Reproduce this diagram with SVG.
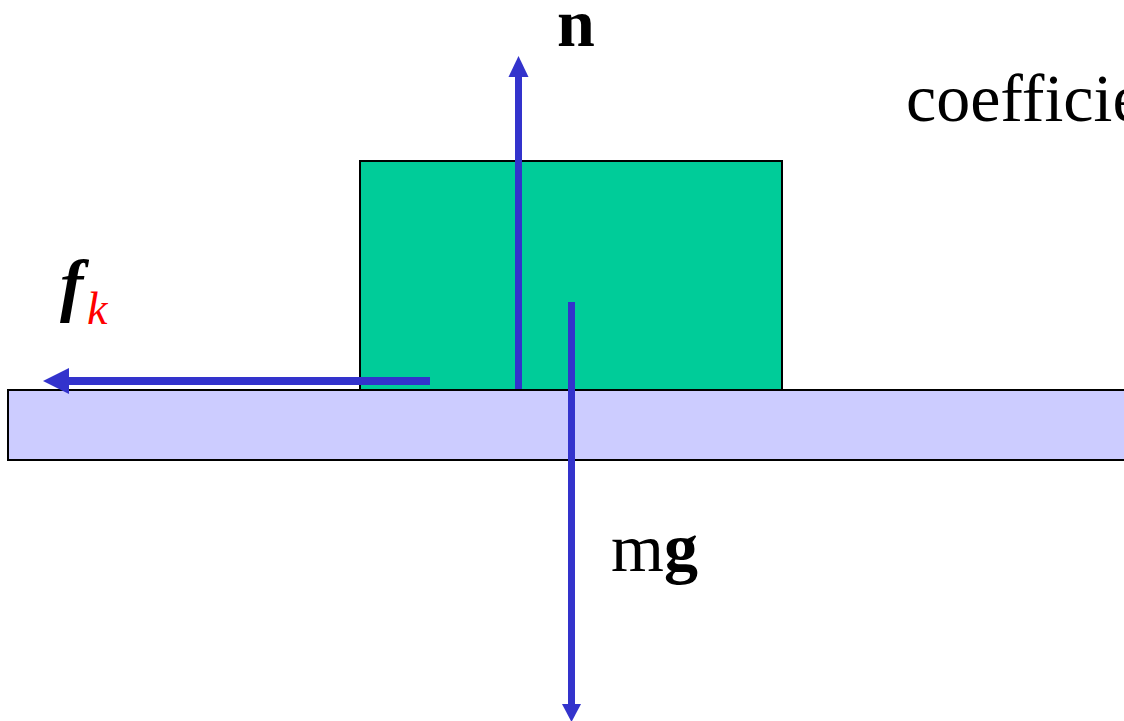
<svg xmlns="http://www.w3.org/2000/svg" width="1124" height="721" viewBox="0 0 1124 721">
<style>
.t{font-family:"Liberation Serif","Times New Roman",serif;font-size:68px;fill:#000}
.arr{stroke:#3333CC;stroke-width:7;fill:none}
.head{fill:#3333CC}
</style>
<rect width="1124" height="721" fill="#fff"/>
<g id="floor"><rect x="8" y="390" width="1130" height="70" fill="#CCCCFF" stroke="#000" stroke-width="2"/></g>
<g id="block"><rect x="360" y="161" width="422" height="229" fill="#00CC99" stroke="#000" stroke-width="2"/></g>
<g id="connectors">
<line class="arr" x1="430" y1="381" x2="66" y2="381" style="stroke-width:8"/>
<polygon class="head" points="43,381 69,368 69,394"/>
<line class="arr" x1="518.5" y1="389" x2="518.5" y2="74"/>
<polygon class="head" points="518.5,56 508.5,77 528.5,77"/>
<line class="arr" x1="571.5" y1="302" x2="571.5" y2="706"/>
<polygon class="head" points="571.5,722 562,704 581,704"/>
</g>
<g id="label-n"><text class="t" x="557" y="46" font-weight="bold">n</text></g>
<g id="label-coef"><text class="t" x="906" y="121">coefficie</text></g>
<g id="label-mg"><text class="t" x="611" y="571">m<tspan font-weight="bold">g</tspan></text></g>
<g id="label-fk"><text class="t" x="60" y="308" font-weight="bold" font-style="italic" style="font-size:70px">f</text><text class="t" x="87" y="324" font-style="italic" style="font-size:46px;fill:#FF0000">k</text></g>
</svg>
